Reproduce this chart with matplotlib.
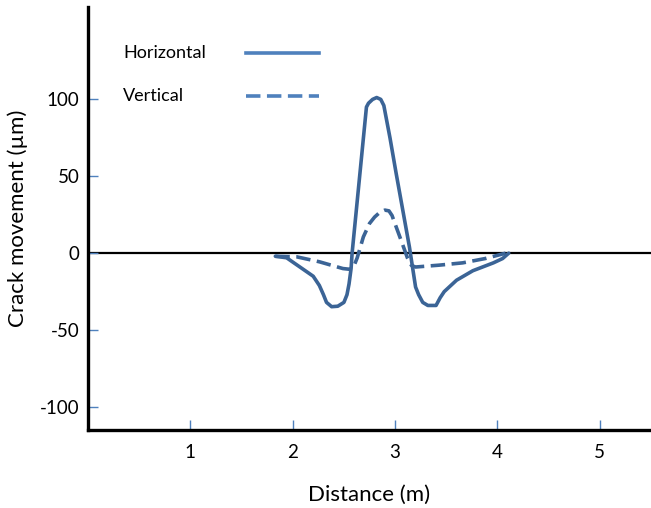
import matplotlib.pyplot as plt

# values
horiz_x = [1.83, 1.94, 2.07, 2.20, 2.26, 2.30, 2.33, 2.38, 2.44, 2.50, 2.53, 2.55, 2.57, 2.58,
           2.65, 2.72, 2.74, 2.78, 2.82, 2.86, 2.89, 2.95, 3.01, 3.14, 3.20, 3.23, 3.27, 3.32,
           3.40, 3.44, 3.48, 3.60, 3.76, 3.96, 4.05, 4.11]
horiz_y = [-2, -3, -9, -15, -21, -27, -32, -34.8, -34.5, -32, -27, -20, -10, 0,
           47.5, 95, 97.5, 100, 101.2, 100, 96, 75, 52, 4, -22, -27, -32, -34,
           -34, -29, -25, -17.6, -11.4, -6.3, -3.5, 0]

vert_x = [1.83, 2.04, 2.26, 2.49, 2.56, 2.60, 2.63, 2.69, 2.75, 2.80, 2.85, 2.90, 2.94, 2.97,
          3.00, 3.07, 3.12, 3.16, 3.20, 3.43, 3.66, 3.88, 4.08]
vert_y = [-2, -2.4, -5.6, -10, -10.5, -8, -3, 10.6, 19.3, 23.5, 26.5, 28, 27.5, 24.5,
          19, 6.3, -3, -8, -9, -7.8, -6.3, -3.5, 0]

xticks = [1, 2, 3, 4, 5]
yticks = [-100, -50, 0, 50, 100]
series_names = ['Horizontal', 'Vertical']

plt.rcParams['font.family'] = ['Lato', 'DejaVu Sans']

fig = plt.figure(figsize=(6.51, 5.08), dpi=100)
ax = fig.add_axes([0.1352, 0.1535, 0.8648, 0.8325])

line_col = '#3b6496'
leg_col = '#4f81bd'
dash = (4, 1.8)

ax.axhline(0, color='black', lw=1.6, zorder=1)
ax.plot(horiz_x, horiz_y, color=line_col, lw=2.6, solid_joinstyle='round',
        solid_capstyle='round', zorder=3)
ax.plot(vert_x, vert_y, color=line_col, lw=2.6, dashes=dash, zorder=3)

# legend: text on the left, sample line to the right
leg_rows = [(0.891, None), (0.790, dash)]
for name, (yy, ds) in zip(series_names, leg_rows):
    ax.text(0.062, yy, name, transform=ax.transAxes, fontsize=13,
            ha='left', va='center')
    kw = {'dashes': ds} if ds else {}
    ax.plot([0.28, 0.41], [yy, yy], transform=ax.transAxes, color=leg_col,
            lw=2.6, clip_on=False, **kw)

ax.set_xlim(0, 5.5)
ax.set_ylim(-115, 160)
ax.set_xticks(xticks)
ax.set_yticks(yticks)
ax.set_yticklabels([str(v) for v in yticks])

ax.tick_params(axis='both', direction='in', color='#4f81bd', length=7, width=1,
               labelsize=13.5)
ax.tick_params(axis='x', pad=10)
ax.tick_params(axis='y', pad=6)

for s in ['top', 'right']:
    ax.spines[s].set_visible(False)
for s in ['left', 'bottom']:
    ax.spines[s].set_linewidth(2.4)
    ax.spines[s].set_color('black')

ax.set_xlabel('Distance (m)', fontsize=16, labelpad=17)
ax.set_ylabel('Crack movement (µm)', fontsize=16, labelpad=9)

plt.savefig('out.png', dpi=100)
